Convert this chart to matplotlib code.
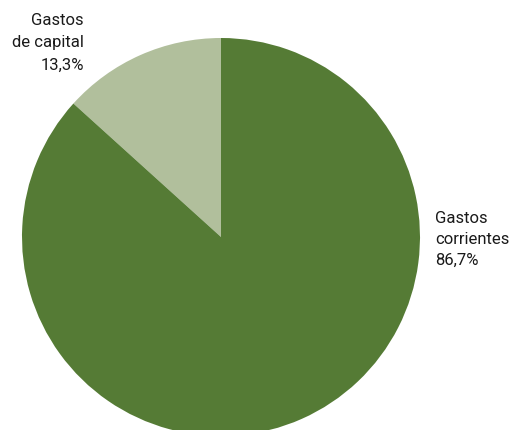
import matplotlib.pyplot as plt

# datos
etiquetas = ["Gastos\nde capital", "Gastos\ncorrientes"]
valores = [13.3, 86.7]
colores = ["#b1bf9c", "#557b35"]

fig = plt.figure(figsize=(5.12, 4.30), dpi=100)
ax = fig.add_axes([0, 0, 1, 1])

# pie en coordenadas de pixel (y hacia arriba)
ax.pie(valores, colors=colores, startangle=90, counterclock=True,
       center=(221, 193), radius=199, frame=True,
       wedgeprops={"linewidth": 0})
ax.set_xlim(0, 512)
ax.set_ylim(0, 430)
ax.axis("off")

def fmt(v):
    return f"{v:.1f}".replace(".", ",") + "%"

ax.text(84, 430 - 13, etiquetas[0] + "\n" + fmt(valores[0]),
        ha="right", va="top", fontsize=12, linespacing=1.6,
        family="Roboto", color="#1a1a1a")
ax.text(435, 430 - 211, etiquetas[1] + "\n" + fmt(valores[1]),
        ha="left", va="top", fontsize=12, linespacing=1.5,
        family="Roboto", color="#1a1a1a")

fig.savefig("out.png", dpi=100)
